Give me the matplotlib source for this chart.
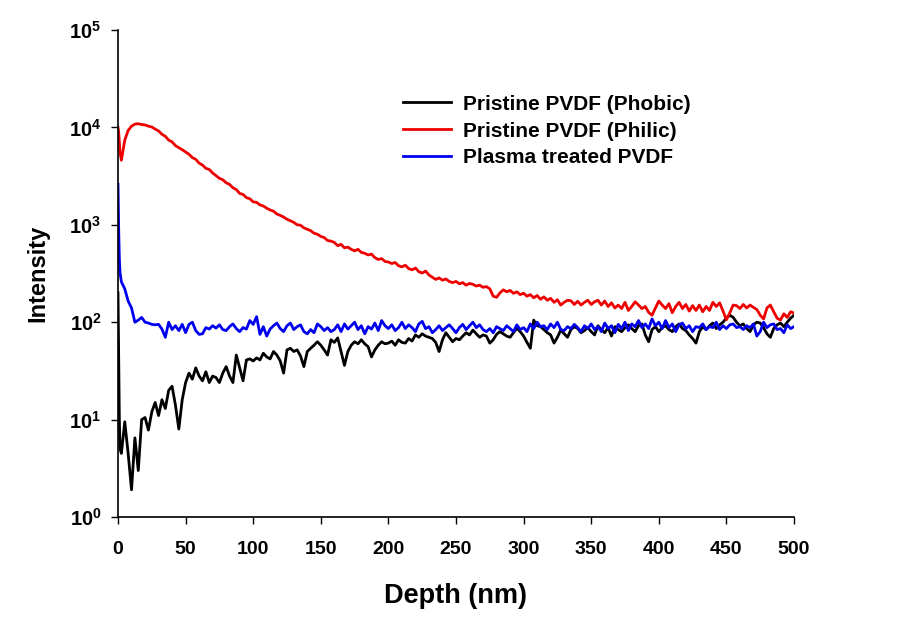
import numpy as np
import matplotlib
matplotlib.use("Agg")
import matplotlib.pyplot as plt

# depth grid (nm): a few dense points at the surface, then every 2.5 nm
depth = np.concatenate([[0.0, 0.5, 1.0, 1.5], np.arange(2.5, 500.01, 2.5)])

phobic = [200, 40, 10, 5,
          4.5, 9.5, 4.5, 1.9, 6.5, 3, 10, 10.5, 7.8, 12,
          15, 11, 16, 13, 20, 22, 14, 8, 16, 24,
          30, 26, 34, 28, 25, 31, 24, 28, 27, 24,
          30, 35, 28, 24, 46, 34, 25, 41, 42, 40,
          43, 41, 48, 44, 42, 50, 46, 40, 30, 52,
          54, 50, 52, 45, 35, 50, 54, 58, 63, 58,
          52, 46, 66, 62, 69, 50, 36, 50, 58, 63,
          60, 66, 60, 56, 44, 52, 58, 63, 60, 61,
          64, 58, 66, 62, 61, 68, 64, 74, 70, 76,
          72, 70, 68, 62, 50, 66, 78, 70, 63, 68,
          66, 72, 78, 74, 83, 76, 70, 74, 72, 61,
          66, 75, 80, 76, 72, 70, 78, 87, 80, 72,
          62, 54, 105, 92, 90, 84, 78, 74, 61, 70,
          83, 76, 70, 84, 90, 86, 78, 82, 88, 80,
          74, 92, 84, 78, 88, 72, 90, 84, 80, 88,
          94, 86, 80, 92, 96, 74, 63, 84, 90, 80,
          88, 92, 84, 80, 90, 96, 86, 82, 74, 68,
          61, 80, 90, 84, 92, 98, 86, 94, 100, 110,
          118, 112, 100, 92, 96, 86, 80, 94, 100, 98,
          88, 76, 70, 86, 94, 98, 90, 100, 110, 118]

philic = [10000, 9000, 7000, 5500,
          4600, 7400, 9300, 10300, 10800, 10900, 10700, 10600, 10300, 10100,
          9600, 9200, 8500, 8100, 7400, 7100, 6500, 6200, 5900, 5600,
          5300, 4900, 4700, 4300, 4100, 3800, 3700, 3400, 3200, 3000,
          2900, 2700, 2600, 2400, 2300, 2100, 2050, 1900, 1850, 1720,
          1700, 1600, 1560, 1480, 1420, 1380, 1290, 1250, 1200, 1140,
          1100, 1060, 1000, 990, 930, 900, 870, 820, 800, 760,
          740, 690, 680, 660, 610, 630, 580, 590, 560, 540,
          560, 520, 510, 490, 500, 460, 440, 450, 420, 415,
          400, 410, 380, 370, 385, 355, 345, 360, 330, 320,
          335, 305, 290, 275, 285, 270, 278, 262, 255, 262,
          248, 255, 240, 250, 245, 235, 240, 228, 232, 220,
          185, 180, 200, 215, 205, 212, 198, 205, 192, 198,
          185, 192, 178, 188, 172, 182, 168, 176, 160, 170,
          150, 160, 168, 166, 152, 164, 150, 160, 168, 152,
          162, 168, 150, 165, 145, 158, 140, 150, 138, 160,
          132, 145, 162, 150, 138, 145, 126, 118, 140, 165,
          150, 138, 155, 125, 145, 160, 138, 152, 130, 148,
          132, 150, 128, 145, 132, 160, 145, 158, 130, 106,
          125, 150, 148, 138, 152, 140, 150, 142, 135, 118,
          108, 140, 150, 128, 110, 105, 122, 112, 128, 124]

plasma = [2600, 900, 450, 320,
          260, 220, 165, 140, 100, 105, 112, 100, 98, 95,
          94, 95, 85, 70, 100, 84, 92, 82, 95, 78,
          95, 100, 82, 75, 76, 88, 85, 92, 87, 94,
          84, 82, 90, 96, 86, 80, 88, 85, 104, 95,
          114, 75, 90, 72, 85, 92, 98, 86, 80, 92,
          98, 84, 90, 94, 80, 76, 84, 78, 96, 90,
          82, 88, 80, 84, 94, 80, 96, 85, 92, 100,
          84, 92, 76, 90, 85, 98, 82, 104, 92, 86,
          94, 82, 88, 100, 86, 94, 88, 80, 96, 102,
          86, 90, 78, 84, 92, 82, 88, 94, 86, 78,
          88, 95, 84, 92, 100, 88, 94, 84, 80, 86,
          78, 90, 86, 82, 92, 86, 80, 94, 84, 88,
          80, 96, 86, 100, 90, 92, 84, 96, 88, 100,
          84, 82, 90, 86, 95, 88, 80, 92, 86, 96,
          84, 90, 80, 98, 86, 92, 78, 95, 86, 100,
          82, 96, 90, 104, 88, 96, 86, 108, 92, 100,
          86, 104, 88, 96, 80, 94, 98, 86, 92, 80,
          90, 88, 96, 84, 90, 88, 100, 84, 92, 86,
          94, 96, 88, 90, 84, 92, 88, 96, 72, 80,
          100, 88, 94, 96, 84, 86, 78, 94, 86, 90]

labels = ["Pristine PVDF (Phobic)", "Pristine PVDF (Philic)", "Plasma treated PVDF"]
colors = ["#000000", "#ee0000", "#0000ee"]
xticks = [0, 50, 100, 150, 200, 250, 300, 350, 400, 450, 500]
yticks = [1, 10, 100, 1000, 10000, 100000]

plt.rcParams["font.family"] = ["Liberation Sans", "DejaVu Sans"]
plt.rcParams["font.weight"] = "bold"
plt.rcParams["mathtext.fontset"] = "custom"
plt.rcParams["mathtext.rm"] = "Liberation Sans:bold"
plt.rcParams["mathtext.bf"] = "Liberation Sans:bold"

fig = plt.figure(figsize=(9.07, 6.32), dpi=100)
ax = fig.add_axes([118 / 907, 115 / 632, 676 / 907, 487 / 632])

for ys, lab, c in zip([phobic, philic, plasma], labels, colors):
    ax.plot(depth, ys, color=c, lw=2, label=lab)

ax.set_yscale("log")
ax.set_xlim(0, 500)
ax.set_ylim(1, 1e5)
ax.set_xticks(xticks)
ax.set_xticklabels([str(t) for t in xticks], fontsize=14, fontweight="bold")
ax.set_yticks(yticks)
ax.set_yticklabels([rf"$10^{{{int(np.log10(t))}}}$" for t in yticks], fontsize=14.5)
ax.minorticks_off()
ax.tick_params(direction="out", length=5, width=1)
ax.tick_params(axis="x", pad=12)
ax.tick_params(axis="y", pad=7)
for s in ["top", "right"]:
    ax.spines[s].set_visible(False)
for s in ["left", "bottom"]:
    ax.spines[s].set_linewidth(1.2)

ax.set_xlabel("Depth (nm)", fontsize=19.5, fontweight="bold", labelpad=18)
ax.set_ylabel("Intensity", fontsize=17, fontweight="bold", labelpad=14)

leg = ax.legend(loc="center left", bbox_to_anchor=(403 / 907, (632 - 131) / 632),
                bbox_transform=fig.transFigure, frameon=False, fontsize=15,
                handlelength=2.3, handletextpad=0.6, labelspacing=0.38,
                borderpad=0, borderaxespad=0)
for t in leg.get_texts():
    t.set_fontweight("bold")

fig.savefig("out.png", dpi=100)
